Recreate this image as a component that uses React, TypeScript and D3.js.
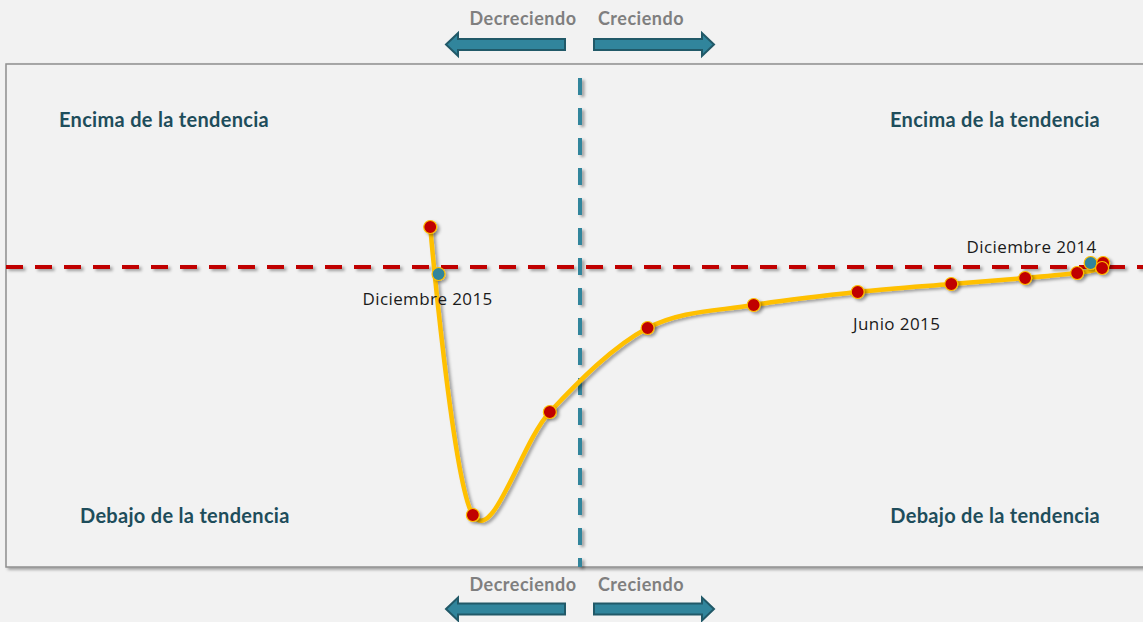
import React from "react";
import * as d3 from "d3";

// monthly points, Dec 2014 -> Dec 2015
const months = [
  "Diciembre 2014", "Enero 2015", "Febrero 2015", "Marzo 2015", "Abril 2015",
  "Mayo 2015", "Junio 2015", "Julio 2015", "Agosto 2015", "Septiembre 2015",
  "Octubre 2015", "Noviembre 2015", "Diciembre 2015",
];
const growth = [4.91, 5.03, 5.02, 4.78, 4.28, 3.57, 2.67, 1.67, 0.65, -0.29, -1.03, -1.44, -1.36];
const trend = [0.04, 0.04, -0.01, -0.06, -0.11, -0.17, -0.25, -0.38, -0.61, -1.45, -2.48, 0.4, -0.07];
const highlighted = ["Diciembre 2014", "Diciembre 2015"];
const labelled = ["Diciembre 2014", "Junio 2015", "Diciembre 2015"];

const quadrantLabels = ["Encima de la tendencia", "Debajo de la tendencia"];
const directionLabels = ["Decreciendo", "Creciendo"];

const W = 1143;
const H = 622;
const box = { left: 6, top: 64, bottom: 567, right: 1160 };

// label offsets (text center relative to the point)
const labelOffset: Record<string, [number, number]> = {
  "Diciembre 2014": [-59, -17],
  "Junio 2015": [39, 31],
  "Diciembre 2015": [-11, 24],
};

const RED = "#c00000";
const TEAL = "#31859c";
const ORANGE = "#ffc000";

type Pt = { month: string; x: number; y: number };

function arrowPath(x0: number, x1: number, cy: number, dir: number) {
  // dir -1: points left (tip at x0), 1: points right (tip at x1)
  const sh = 5.5;
  const hh = 11.5;
  const hl = 12;
  if (dir < 0) {
    const b = x0 + hl;
    return `M${x0},${cy} L${b},${cy - hh} L${b},${cy - sh} L${x1},${cy - sh} L${x1},${cy + sh} L${b},${cy + sh} L${b},${cy + hh} Z`;
  }
  const b = x1 - hl;
  return `M${x1},${cy} L${b},${cy - hh} L${b},${cy - sh} L${x0},${cy - sh} L${x0},${cy + sh} L${b},${cy + sh} L${b},${cy + hh} Z`;
}

const App = () => {
  const data: Pt[] = months.map((m, i) => ({ month: m, x: growth[i], y: trend[i] }));
  // highlighted months are drawn as markers on top, the line runs through the rest
  const lineData = data.filter((d) => !highlighted.includes(d.month));

  const x = d3.scaleLinear().domain([-5, 5]).range([60, 1100]);
  const y = d3.scaleLinear().domain([-3, 2]).range([567, 67]);

  const line = d3
    .line<Pt>()
    .x((d) => x(d.x))
    .y((d) => y(d.y))
    .curve(d3.curveCatmullRom.alpha(0));

  const x0 = x(0);
  const y0 = y(0);

  const font = "Lato, 'Open Sans', sans-serif";

  const arrows = (cyText: number, cyArrow: number) => (
    <g>
      <text x={523} y={cyText} textAnchor="middle" dominantBaseline="central"
        fontFamily={font} fontWeight="bold" fontSize={18} letterSpacing={0.5} fill="#7f7f7f">
        {directionLabels[0]}
      </text>
      <text x={641} y={cyText} textAnchor="middle" dominantBaseline="central"
        fontFamily={font} fontWeight="bold" fontSize={18} letterSpacing={0.5} fill="#7f7f7f">
        {directionLabels[1]}
      </text>
      <path d={arrowPath(446, 565, cyArrow, -1)} fill={TEAL} stroke="#215968" strokeWidth={2} />
      <path d={arrowPath(594, 714, cyArrow, 1)} fill={TEAL} stroke="#215968" strokeWidth={2} />
    </g>
  );

  const qStyle = {
    fontFamily: font,
    fontWeight: "bold" as const,
    fontSize: 20,
    letterSpacing: 0.3,
    fill: "#1e4d5b",
  };

  return (
    <svg width={W} height={H} style={{ position: "fixed", left: 0, top: 0, display: "block" }}>
      <defs>
        <filter id="sh" filterUnits="userSpaceOnUse" x={0} y={0} width={W} height={H}>
          <feDropShadow dx={2.5} dy={2} stdDeviation={1.8} floodColor="#000" floodOpacity={0.35} />
        </filter>
      </defs>
      <rect width={W} height={H} fill="#f2f2f2" />

      <rect x={box.left} y={box.top} width={box.right - box.left} height={box.bottom - box.top}
        fill="#f2f2f2" stroke="#8f8f8f" strokeWidth={1.5} filter="url(#sh)" />

      {arrows(18, 44.5)}
      {arrows(584, 609)}

      <text x={59} y={119} dominantBaseline="central" {...qStyle}>{quadrantLabels[0]}</text>
      <text x={1100} y={119} textAnchor="end" dominantBaseline="central" {...qStyle}>{quadrantLabels[0]}</text>
      <text x={80} y={515} dominantBaseline="central" {...qStyle}>{quadrantLabels[1]}</text>
      <text x={1100} y={515} textAnchor="end" dominantBaseline="central" {...qStyle}>{quadrantLabels[1]}</text>

      <line x1={x0} x2={x0} y1={78} y2={box.bottom} stroke={TEAL} strokeWidth={4}
        strokeDasharray="17 13" filter="url(#sh)" />
      <line x1={box.left} x2={W} y1={y0} y2={y0} stroke={RED} strokeWidth={4}
        strokeDasharray="17 12" filter="url(#sh)" />

      <path d={line(lineData) ?? ""} fill="none" stroke={ORANGE} strokeWidth={4.5}
        strokeLinejoin="round" strokeLinecap="round" filter="url(#sh)" />

      <g filter="url(#sh)">
        {data.map((d) => (
          <circle key={d.month} cx={x(d.x)} cy={y(d.y)} r={6.5}
            fill={highlighted.includes(d.month) ? TEAL : RED} stroke={ORANGE} strokeWidth={1.2} />
        ))}
      </g>

      {data
        .filter((d) => labelled.includes(d.month))
        .map((d) => {
          const [dx, dy] = labelOffset[d.month];
          return (
            <text key={d.month} x={x(d.x) + dx} y={y(d.y) + dy} textAnchor="middle"
              dominantBaseline="central" fontFamily="'Open Sans', Lato, sans-serif" fontSize={17}
              letterSpacing={0.4} fill="#1a1a1a">
              {d.month}
            </text>
          );
        })}
    </svg>
  );
};

export default App;
